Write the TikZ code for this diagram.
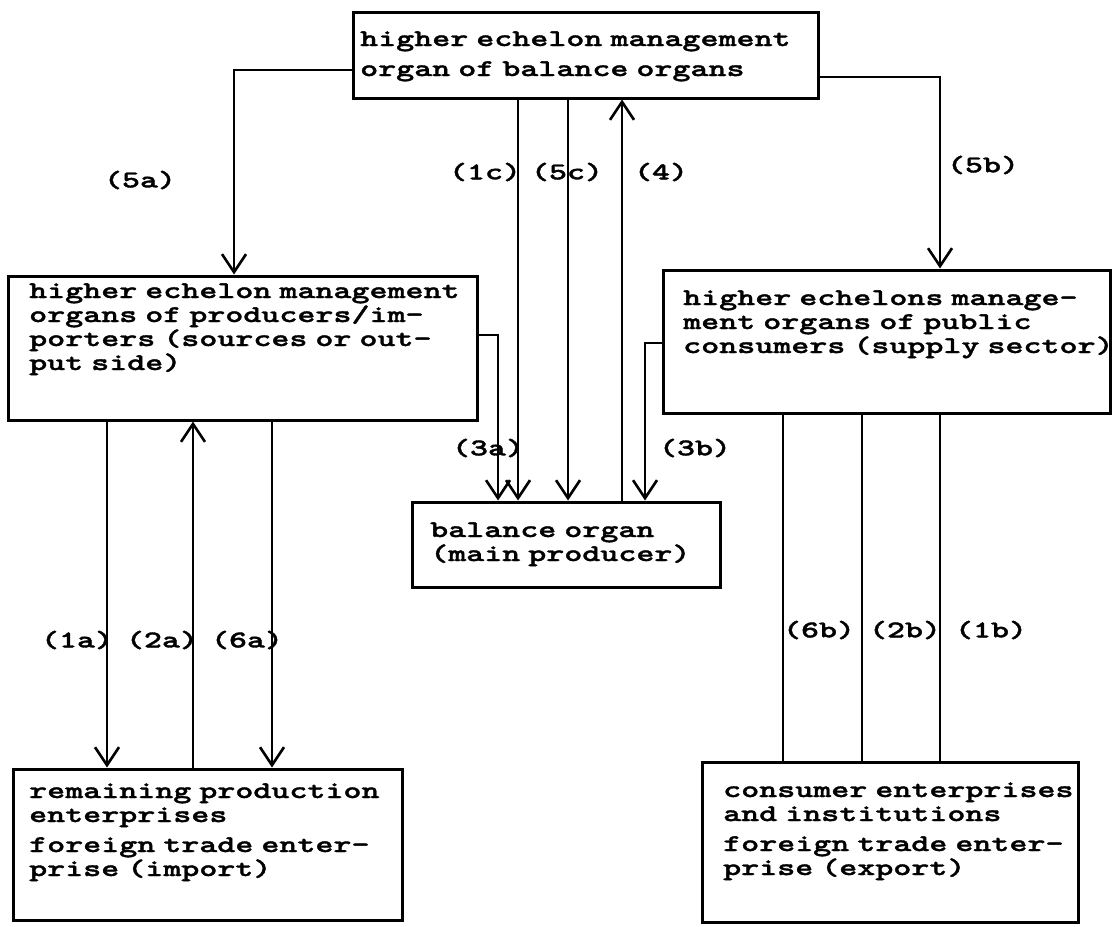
\documentclass[tikz,border=0pt]{standalone}
\usepackage{fontspec}
\usetikzlibrary{arrows.meta}
\newfontfamily\tw{lmmonolt10-bold.otf}[FakeStretch=1.43,FakeBold=1.5]
\newcommand\twf{\tw\fontsize{24}{24}\selectfont\frenchspacing
  \fontdimen2\font=17.15pt\fontdimen3\font=0pt\fontdimen4\font=0pt
  \lineskiplimit=-40pt\lineskip=0pt}
\begin{document}
\begin{tikzpicture}[x=1pt,y=-1pt,
  box/.style={draw,line width=3pt,rectangle,inner sep=0pt},
  txt/.style={font=\twf,inner sep=0pt,align=left,text width=#1,anchor=base west},
  txt/.default=460pt,
  lab/.style={font=\twf,inner sep=0pt},
  conn/.style={line width=2.6pt},
  arr/.style={conn,-{Straight Barb[length=18pt,width=24pt,line width=2.6pt]}}
]
\useasboundingbox (0,0) rectangle (1113,926);
% boxes
\node[box,minimum width=465pt,minimum height=86pt] (T) at (585.5,55) {};
\node[box,minimum width=469pt,minimum height=144pt] (L) at (242.5,348) {};
\node[box,minimum width=447pt,minimum height=143pt] (R) at (886.5,341.5) {};
\node[box,minimum width=308pt,minimum height=85pt] (B) at (566,544.5) {};
\node[box,minimum width=389pt,minimum height=151pt] (BL) at (207.5,844.5) {};
\node[box,minimum width=376pt,minimum height=160pt] (BR) at (890,842) {};
% texts
\node[txt=480pt] (Tt) at (360,46) {higher echelon management\\[6pt]organ of balance organs};
\node[txt] (Lt) at (29,298) {higher echelon management\\organs of producers/im-\\porters (sources or out-\\put side)};
\node[txt] (Rt) at (683,305) {higher echelons manage-\\ment organs of public\\consumers (supply sector)};
\node[txt] (Bt) at (430,537) {balance organ\\(main producer)};
\node[txt] (BLt) at (29,798) {remaining production\\enterprises\\[6pt]foreign trade enter-\\prise (import)};
\node[txt] (BRt) at (723,797) {consumer enterprises\\and institutions\\[6pt]foreign trade enter-\\prise (export)};
% connectors from the top box
\draw[arr] ([yshift=-15pt]T.west) -| ([xshift=-8.5pt]L.north);
\draw[arr] ([yshift=-22pt]T.east) -| ([xshift=53.5pt]R.north);
\draw[arr] ([xshift=-67.5pt]T.south) -- ([xshift=-67.5pt]T.south |- B.north);
\draw[arr] ([xshift=-17.5pt]T.south) -- ([xshift=-17.5pt]T.south |- B.north);
\draw[arr] ([xshift=36.5pt]T.south |- B.north) -- ([xshift=36.5pt]T.south);
% into balance organ
\draw[arr] ([yshift=13pt]L.east) -| ([xshift=-68pt]B.north);
\draw[arr] ([yshift=-1.5pt]R.west) -| ([xshift=79pt]B.north);
% left column
\draw[arr] ([xshift=-135.5pt]L.south) -- ([xshift=-135.5pt]L.south |- BL.north);
\draw[arr] ([xshift=-49.5pt]L.south |- BL.north) -- ([xshift=-49.5pt]L.south);
\draw[arr] ([xshift=29.5pt]L.south) -- ([xshift=29.5pt]L.south |- BL.north);
% right column
\draw[conn] ([xshift=-103.5pt]R.south) -- ([xshift=-103.5pt]R.south |- BR.north);
\draw[conn] ([xshift=-24.5pt]R.south) -- ([xshift=-24.5pt]R.south |- BR.north);
\draw[conn] ([xshift=53.5pt]R.south) -- ([xshift=53.5pt]R.south |- BR.north);
% labels
\node[lab] (l5a) at (140,180) {(5a)};
\node[lab] (l5b) at (983,165) {(5b)};
\node[lab] (l1c) at (485,172) {(1c)};
\node[lab] (l5c) at (567,172) {(5c)};
\node[lab] (l4) at (661,172) {(4)};
\node[lab] (l3a) at (488,448) {(3a)};
\node[lab] (l3b) at (695,448) {(3b)};
\node[lab] (l1a) at (77,640) {(1a)};
\node[lab] (l2a) at (162,640) {(2a)};
\node[lab] (l6a) at (247,640) {(6a)};
\node[lab] (l6b) at (819,630) {(6b)};
\node[lab] (l2b) at (905,630) {(2b)};
\node[lab] (l1b) at (991,630) {(1b)};
\end{tikzpicture}
\end{document}
